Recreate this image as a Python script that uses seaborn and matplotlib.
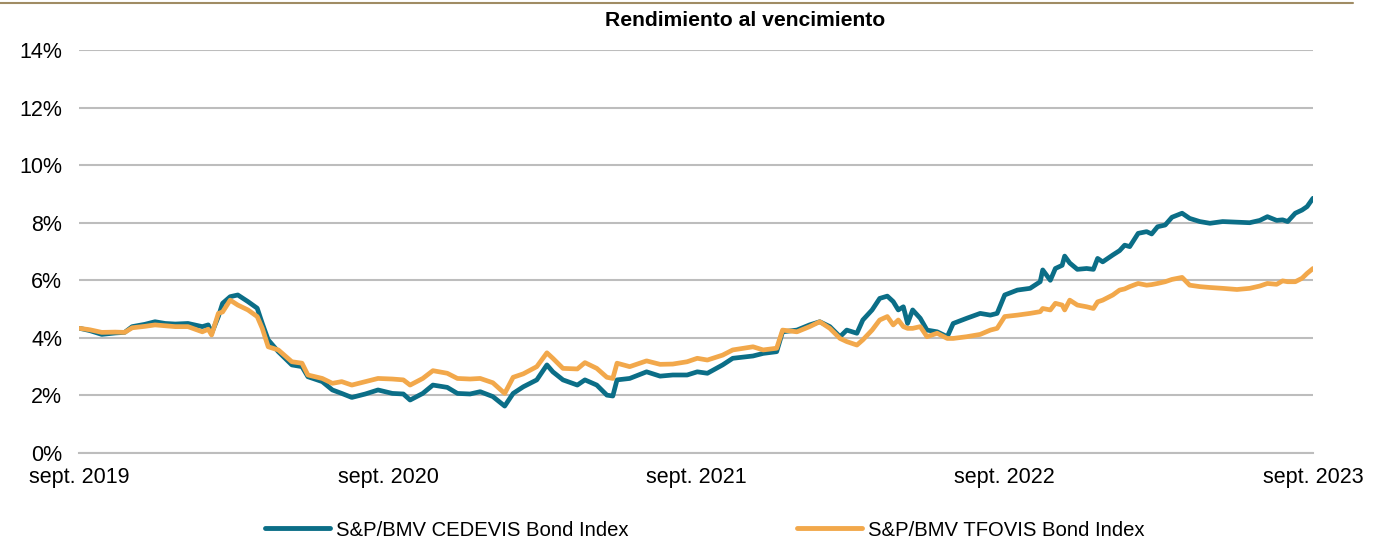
import matplotlib
matplotlib.use("Agg")
import matplotlib.pyplot as plt
from matplotlib.ticker import FuncFormatter, MultipleLocator
from matplotlib.lines import Line2D
import seaborn as sns
import pandas as pd

dates = [
    "2019-09-02", "2019-09-14", "2019-09-28", "2019-10-14", "2019-10-25", "2019-11-03",
    "2019-11-18", "2019-11-30", "2019-12-12", "2019-12-24", "2020-01-08", "2020-01-25",
    "2020-02-01", "2020-02-05", "2020-02-13", "2020-02-18", "2020-02-27", "2020-03-07",
    "2020-03-19", "2020-03-30", "2020-04-05", "2020-04-12", "2020-04-24", "2020-05-10",
    "2020-05-22", "2020-05-29", "2020-06-15", "2020-06-27", "2020-07-08", "2020-07-20",
    "2020-08-05", "2020-08-20", "2020-09-06", "2020-09-19", "2020-09-27", "2020-10-12",
    "2020-10-24", "2020-11-10", "2020-11-22", "2020-12-07", "2020-12-19", "2021-01-03",
    "2021-01-17", "2021-01-27", "2021-02-08", "2021-02-24", "2021-03-08", "2021-03-15",
    "2021-03-27", "2021-04-13", "2021-04-22", "2021-05-06", "2021-05-18", "2021-05-25",
    "2021-05-30", "2021-06-14", "2021-07-04", "2021-07-20", "2021-08-04", "2021-08-21",
    "2021-09-02", "2021-09-14", "2021-10-02", "2021-10-14", "2021-11-07", "2021-11-19",
    "2021-12-05", "2021-12-12", "2021-12-29", "2022-01-13", "2022-01-25", "2022-02-06",
    "2022-02-18", "2022-02-26", "2022-03-10", "2022-03-17", "2022-03-28", "2022-04-06",
    "2022-04-15", "2022-04-22", "2022-04-28", "2022-05-04", "2022-05-09", "2022-05-15",
    "2022-05-24", "2022-06-01", "2022-06-13", "2022-06-25", "2022-07-02", "2022-07-18",
    "2022-08-03", "2022-08-15", "2022-08-23", "2022-09-01", "2022-09-16", "2022-10-01",
    "2022-10-13", "2022-10-16", "2022-10-25", "2022-10-31", "2022-11-08", "2022-11-11",
    "2022-11-17", "2022-11-26", "2022-12-07", "2022-12-15", "2022-12-20", "2022-12-26",
    "2023-01-07", "2023-01-15", "2023-01-21", "2023-01-27", "2023-02-06", "2023-02-16",
    "2023-02-22", "2023-03-01", "2023-03-10", "2023-03-18", "2023-03-30", "2023-04-08",
    "2023-04-20", "2023-05-02", "2023-05-17", "2023-06-03", "2023-06-18", "2023-06-30",
    "2023-07-09", "2023-07-20", "2023-07-27", "2023-08-02", "2023-08-11", "2023-08-19",
    "2023-08-25", "2023-09-01",
]

cedevis = [
    4.33, 4.25, 4.12, 4.17, 4.19, 4.39, 4.47, 4.56, 4.50, 4.48, 4.50, 4.39,
    4.45, 4.16, 4.74, 5.20, 5.43, 5.49, 5.26, 5.03, 4.50, 3.93, 3.52, 3.06,
    3.00, 2.65, 2.48, 2.19, 2.07, 1.93, 2.05, 2.19, 2.07, 2.05, 1.84, 2.07,
    2.36, 2.28, 2.07, 2.05, 2.13, 1.96, 1.63, 2.07, 2.30, 2.54, 3.06, 2.82,
    2.54, 2.36, 2.54, 2.36, 2.01, 1.98, 2.54, 2.59, 2.82, 2.67, 2.71, 2.71,
    2.82, 2.77, 3.06, 3.29, 3.37, 3.46, 3.52, 4.21, 4.27, 4.45, 4.56, 4.39,
    4.04, 4.27, 4.16, 4.62, 4.97, 5.37, 5.45, 5.26, 4.97, 5.08, 4.50, 4.97,
    4.68, 4.27, 4.21, 4.04, 4.50, 4.68, 4.85, 4.79, 4.85, 5.49, 5.66, 5.72,
    5.95, 6.36, 6.00, 6.41, 6.52, 6.84, 6.60, 6.38, 6.41, 6.38, 6.76, 6.64,
    6.88, 7.03, 7.22, 7.17, 7.63, 7.69, 7.61, 7.86, 7.92, 8.19, 8.33, 8.15,
    8.04, 7.98, 8.04, 8.02, 8.00, 8.08, 8.21, 8.08, 8.10, 8.04, 8.33, 8.44,
    8.56, 8.85,
]

tfovis = [
    4.33, 4.28, 4.19, 4.20, 4.19, 4.35, 4.40, 4.45, 4.42, 4.39, 4.39, 4.21,
    4.30, 4.10, 4.85, 4.90, 5.31, 5.14, 4.97, 4.74, 4.33, 3.69, 3.58, 3.17,
    3.12, 2.71, 2.59, 2.42, 2.48, 2.36, 2.48, 2.59, 2.57, 2.54, 2.36, 2.59,
    2.86, 2.77, 2.59, 2.57, 2.59, 2.44, 2.07, 2.63, 2.75, 3.00, 3.48, 3.29,
    2.94, 2.92, 3.14, 2.94, 2.63, 2.59, 3.12, 3.00, 3.20, 3.08, 3.09, 3.17,
    3.29, 3.23, 3.40, 3.58, 3.69, 3.58, 3.64, 4.27, 4.21, 4.39, 4.56, 4.33,
    3.98, 3.87, 3.75, 3.93, 4.27, 4.62, 4.74, 4.45, 4.62, 4.39, 4.33, 4.33,
    4.39, 4.04, 4.16, 3.98, 3.98, 4.04, 4.12, 4.27, 4.33, 4.74, 4.79, 4.85,
    4.91, 5.02, 4.97, 5.20, 5.14, 4.97, 5.31, 5.14, 5.08, 5.02, 5.25, 5.31,
    5.49, 5.66, 5.70, 5.78, 5.89, 5.83, 5.85, 5.89, 5.95, 6.03, 6.10, 5.83,
    5.78, 5.75, 5.72, 5.68, 5.72, 5.80, 5.89, 5.86, 5.98, 5.95, 5.95, 6.07,
    6.24, 6.41,
]

series_names = ["S&P/BMV CEDEVIS Bond Index", "S&P/BMV TFOVIS Bond Index"]
series_colors = ["#0B6E87", "#F2A84B"]
title = "Rendimiento al vencimiento"
x_ticks = ["2019-09-01", "2020-09-01", "2021-09-01", "2022-09-01", "2023-09-01"]
x_tick_labels = ["sept. 2019", "sept. 2020", "sept. 2021", "sept. 2022", "sept. 2023"]

df = pd.concat([
    pd.DataFrame({"fecha": pd.to_datetime(dates), "valor": cedevis, "serie": series_names[0]}),
    pd.DataFrame({"fecha": pd.to_datetime(dates), "valor": tfovis, "serie": series_names[1]}),
], ignore_index=True)

sns.set_theme(style="white")
plt.rcParams["font.family"] = ["Liberation Sans", "DejaVu Sans"]
plt.rcParams["text.color"] = "#000000"

fig = plt.figure(figsize=(13.8, 5.39), dpi=100)
ax = fig.add_axes([79 / 1380, 1 - 453 / 539, (1313 - 79) / 1380, (453 - 50) / 539])

sns.lineplot(data=df, x="fecha", y="valor", hue="serie", hue_order=series_names,
             palette=series_colors, linewidth=3.4, ax=ax, legend=False, zorder=3)
for ln in ax.get_lines():
    ln.set_solid_joinstyle("round")
    ln.set_solid_capstyle("round")

ax.set_ylim(0, 14)
ax.set_xlim(pd.Timestamp(x_ticks[0]), pd.Timestamp(x_ticks[-1]))
ax.yaxis.set_major_locator(MultipleLocator(2))
ax.yaxis.set_major_formatter(FuncFormatter(lambda v, p: f"{v:.0f}%"))
ax.set_xticks(pd.to_datetime(x_ticks))
ax.set_xticklabels(x_tick_labels)
ax.set_xlabel("")
ax.set_ylabel("")

ax.grid(axis="y", color="#BDBDBD", linewidth=1.5)
ax.grid(axis="x", visible=False)
for s in ["left", "right", "top"]:
    ax.spines[s].set_visible(False)
ax.spines["bottom"].set_color("#BDBDBD")
ax.spines["bottom"].set_linewidth(1.5)

ax.tick_params(axis="y", length=0, pad=12, labelsize=15.5, labelcolor="#000000")
ax.tick_params(axis="x", length=7, width=1.5, color="#BDBDBD", direction="out",
               pad=3, labelsize=15.5, labelcolor="#000000")

fig.text(745 / 1380, 1 - 21 / 539, title, ha="center", va="center",
         fontsize=15.2, fontweight="bold", color="#000000")

fig.add_artist(Line2D([0, 1353 / 1380], [1 - 2.5 / 539, 1 - 2.5 / 539],
                      color="#A08C64", linewidth=1.5, transform=fig.transFigure))

handles = [Line2D([0], [0], color=c, linewidth=3.5) for c in series_colors]
leg = fig.legend(handles, series_names, loc="center", bbox_to_anchor=(705 / 1380, 1 - 530 / 539),
                 ncol=2, frameon=False, fontsize=14.6, handlelength=3.2, handletextpad=0.3,
                 columnspacing=8.3)
for t in leg.get_texts():
    t.set_color("#000000")

fig.savefig("out.png", dpi=100)
